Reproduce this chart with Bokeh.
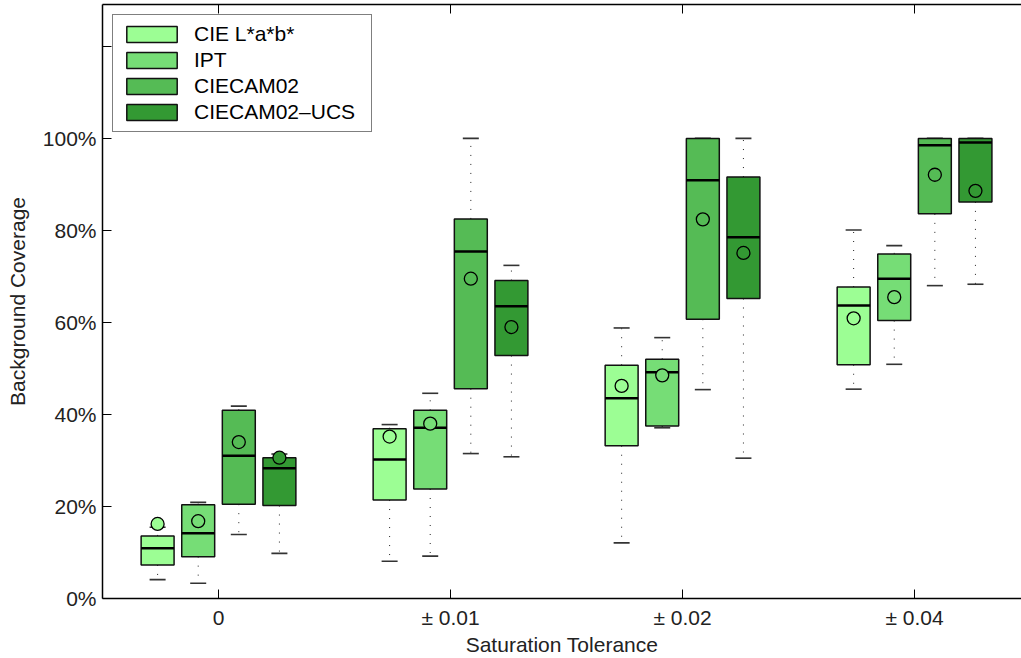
import numpy as np
from bokeh.plotting import figure
from bokeh.models import (Range1d, FixedTicker, LinearAxis, ColumnDataSource,
                          Legend, LegendItem)
from bokeh.embed import file_html
from bokeh.resources import INLINE

# ---------------- data ----------------
groups = ["0", "± 0.01", "± 0.02", "± 0.04"]
methods = ["CIE L*a*b*", "IPT", "CIECAM02", "CIECAM02–UCS"]
colors = ["#9cfe94", "#76dd76", "#55bb55", "#339933"]

lab_lo = [4.1, 8.1, 12.1, 45.5]
lab_q1 = [7.3, 21.4, 33.2, 50.8]
lab_med = [10.9, 30.2, 43.5, 63.7]
lab_q3 = [13.6, 36.9, 50.7, 67.7]
lab_hi = [15.5, 37.8, 58.8, 80.1]
lab_mean = [16.2, 35.2, 46.2, 60.9]

ipt_lo = [3.3, 9.2, 37.1, 50.9]
ipt_q1 = [9.1, 23.8, 37.5, 60.4]
ipt_med = [14.2, 37.1, 49.2, 69.5]
ipt_q3 = [20.4, 40.9, 52.0, 74.9]
ipt_hi = [20.9, 44.6, 56.7, 76.7]
ipt_mean = [16.8, 38.0, 48.5, 65.5]

cam_lo = [13.9, 31.5, 45.4, 68.0]
cam_q1 = [20.5, 45.6, 60.7, 83.6]
cam_med = [31.0, 75.4, 90.9, 98.5]
cam_q3 = [40.9, 82.5, 100.0, 100.0]
cam_hi = [41.8, 100.0, 100.0, 100.0]
cam_mean = [34.0, 69.5, 82.4, 92.1]

ucs_lo = [9.8, 30.8, 30.5, 68.3]
ucs_q1 = [20.2, 52.8, 65.2, 86.2]
ucs_med = [28.3, 63.5, 78.5, 99.1]
ucs_q3 = [30.6, 69.1, 91.6, 100.0]
ucs_hi = [31.4, 72.4, 100.0, 100.0]
ucs_mean = [30.6, 59.0, 75.1, 88.6]

series = [
    (lab_lo, lab_q1, lab_med, lab_q3, lab_hi, lab_mean),
    (ipt_lo, ipt_q1, ipt_med, ipt_q3, ipt_hi, ipt_mean),
    (cam_lo, cam_q1, cam_med, cam_q3, cam_hi, cam_mean),
    (ucs_lo, ucs_q1, ucs_med, ucs_q3, ucs_hi, ucs_mean),
]

y_ticks = [0, 20, 40, 60, 80, 100, 120]
y_labels = ["0%", "20%", "40%", "60%", "80%", "100%", ""]

# ---------------- figure ----------------
FONT = "Liberation Sans"
FS = "21px"

p = figure(width=1021, height=658,
           x_range=Range1d(0.5, 4.461), y_range=Range1d(0, 129.1),
           output_backend="svg", toolbar_location=None,
           min_border_left=102, min_border_right=0,
           min_border_top=4, min_border_bottom=58)
p.xgrid.visible = False
p.ygrid.visible = False
p.outline_line_color = None
p.background_fill_color = "white"
p.border_fill_color = "white"

offsets = [-0.2625, -0.0875, 0.0875, 0.2625]
box_w = 0.142
cap_w = 0.069
base = np.arange(1, len(groups) + 1, dtype=float)

items = []
for i, (lo, q1, med, q3, hi, mean) in enumerate(series):
    x = base + offsets[i]
    src = ColumnDataSource(dict(
        x=x, lo=lo, q1=q1, med=med, q3=q3, hi=hi, mean=mean,
        xl=x - box_w / 2, xr=x + box_w / 2,
        cl=x - cap_w / 2, cr=x + cap_w / 2))
    # whiskers
    p.segment(x0="x", y0="q3", x1="x", y1="hi", source=src,
              line_color="#222222", line_width=1, line_dash="1 8")
    p.segment(x0="x", y0="q1", x1="x", y1="lo", source=src,
              line_color="#222222", line_width=1, line_dash="1 8")
    # caps
    p.segment(x0="cl", y0="hi", x1="cr", y1="hi", source=src,
              line_color="#333333", line_width=1.6)
    p.segment(x0="cl", y0="lo", x1="cr", y1="lo", source=src,
              line_color="#333333", line_width=1.6)
    # box
    r = p.vbar(x="x", width=box_w, bottom="q1", top="q3", source=src,
               fill_color=colors[i], line_color="#111111", line_width=1.5)
    # median
    p.segment(x0="xl", y0="med", x1="xr", y1="med", source=src,
              line_color="black", line_width=2.5)
    # mean
    p.scatter(x="x", y="mean", source=src, marker="circle", size=13,
              fill_color=colors[i], line_color="black", line_width=1.3)
    items.append(LegendItem(label=methods[i], renderers=[r]))

legend = Legend(items=items, location="top_left", margin=10,
                padding=7, spacing=2, glyph_width=63, glyph_height=20,
                label_standoff=11, label_height=20, label_width=170,
                label_text_font=FONT, label_text_font_size=FS,
                label_text_color="black",
                border_line_color="black", border_line_width=1.5,
                background_fill_alpha=1.0)
p.add_layout(legend)

# ---------------- axes ----------------
xa = p.xaxis[0]
xa.ticker = FixedTicker(ticks=list(base))
xa.major_label_overrides = {float(b): g for b, g in zip(base, groups)}
xa.axis_label = "Saturation Tolerance"
ya = p.yaxis[0]
ya.ticker = FixedTicker(ticks=y_ticks)
ya.major_label_overrides = {t: l for t, l in zip(y_ticks, y_labels)}
ya.axis_label = "Background Coverage"

for ax in (xa, ya):
    ax.major_tick_in = 9
    ax.major_tick_out = 0
    ax.minor_tick_line_color = None
    ax.axis_line_width = 1.5
    ax.axis_line_color = "black"
    ax.major_tick_line_color = "black"
    ax.major_tick_line_width = 1
    ax.major_label_text_font = FONT
    ax.major_label_text_font_size = FS
    ax.major_label_text_color = "#222222"
    ax.axis_label_text_font = FONT
    ax.axis_label_text_font_size = FS
    ax.axis_label_text_font_style = "normal"
    ax.axis_label_text_color = "#222222"

xa.major_label_standoff = 7
xa.axis_label_standoff = 1
ya.major_label_standoff = 6
ya.axis_label_standoff = 11

top = LinearAxis(ticker=FixedTicker(ticks=list(base)),
                 major_label_text_font_size="0px", major_label_standoff=0,
                 major_tick_in=9, major_tick_out=0,
                 minor_tick_line_color=None, axis_line_width=1.5,
                 axis_line_color="black")
top.major_label_overrides = {float(b): "" for b in base}
p.add_layout(top, "above")

open("out.html", "w").write(file_html(p, INLINE))
